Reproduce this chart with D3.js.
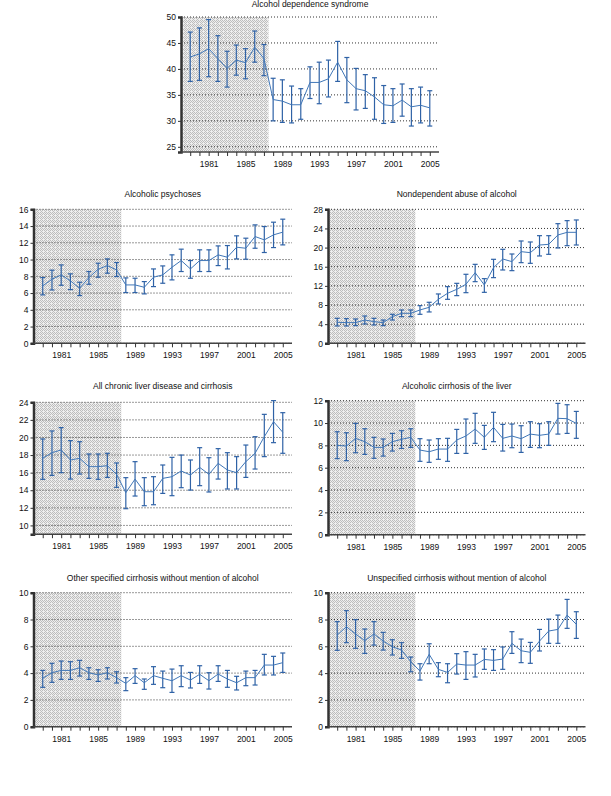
<!DOCTYPE html>
<html><head><meta charset="utf-8">
<script src="https://cdn.jsdelivr.net/npm/d3@7"></script>
<style>body{margin:0;background:#fff}svg{display:block}text{font-family:"Liberation Sans",Arial,sans-serif}</style>
</head><body>
<svg id="c" width="611" height="796"></svg>
<script>
const years = d3.range(1979, 2006);
const yearLabels = [1981, 1985, 1989, 1993, 1997, 2001, 2005];

const titles = ["Alcohol dependence syndrome","Alcoholic psychoses","Nondependent abuse of alcohol",
  "All chronic liver disease and cirrhosis","Alcoholic cirrhosis of the liver",
  "Other specified cirrhosis without mention of alcohol","Unspecified cirrhosis without mention of alcohol"];

const depMean = [42.3,42.9,43.9,42.0,40.1,41.7,41.2,44.2,42.0,34.1,33.8,33.1,33.1,37.4,37.4,38.1,41.3,37.9,36.2,35.8,34.6,33.1,32.9,34.0,32.7,33.0,32.5];
const depHi   = [47.1,47.9,49.5,46.4,43.4,44.6,43.9,47.3,44.7,38.2,37.9,36.7,36.2,40.4,41.3,41.7,45.3,42.2,40.1,38.9,38.3,36.8,36.2,37.1,36.2,36.5,35.8];
const depLo   = [37.6,37.8,38.5,37.6,36.5,38.8,38.1,41.3,38.7,30.0,29.7,29.6,30.3,34.3,33.3,34.6,37.6,33.5,32.1,32.4,30.3,29.5,29.7,30.9,29.0,29.6,29.0];

const psyMean = [6.85,7.65,8.17,7.45,6.57,7.85,8.84,9.28,8.76,6.97,6.97,6.69,7.89,8.17,9.08,9.88,8.88,9.88,9.88,10.56,10.28,11.47,11.35,12.75,12.35,12.95,13.27];
const psyHi   = [7.85,8.73,9.36,8.29,7.29,8.57,9.56,10.08,9.64,7.81,7.77,7.37,8.88,9.24,10.56,11.24,9.88,11.16,11.16,11.63,11.67,12.83,12.55,14.14,13.94,14.46,14.82];
const psyLo   = [5.78,6.37,6.93,6.41,5.70,7.05,7.89,8.37,7.97,6.06,6.06,5.90,6.77,7.17,7.57,8.57,7.77,8.57,8.57,9.28,8.88,10.08,10.04,11.35,10.84,11.43,11.75];

const abuMean = [4.39,4.32,4.32,4.87,4.53,4.32,5.57,6.27,6.27,6.96,7.52,9.19,10.45,11.28,12.33,14.76,12.19,15.81,17.62,17.06,19.15,18.94,20.54,20.68,22.63,23.19,23.19];
const abuHi   = [5.22,5.15,5.08,5.71,5.22,4.87,6.06,6.96,6.96,7.87,8.57,10.31,11.84,12.53,14.42,16.50,13.51,17.55,19.64,18.66,21.38,21.17,22.49,22.49,25.0,25.63,25.77];
const abuLo   = [3.62,3.62,3.69,4.04,3.83,3.69,4.87,5.57,5.57,6.06,6.55,8.22,9.19,9.96,10.58,12.88,10.65,13.72,15.32,15.18,16.85,16.71,18.25,18.59,19.92,20.40,20.54];

const cldMean = [17.63,18.27,18.58,17.44,17.63,16.68,16.68,16.79,15.81,13.72,15.27,13.83,13.83,15.35,15.54,16.19,15.73,16.60,15.81,17.06,16.30,16.0,17.25,18.20,20.09,21.80,20.59];
const cldHi   = [19.83,20.74,21.12,19.64,19.52,18.12,18.12,18.20,17.10,15.43,17.25,15.43,15.54,16.87,17.74,18.0,17.44,18.84,17.70,18.73,18.27,17.82,19.14,20.09,22.63,24.19,22.82];
const cldLo   = [15.24,15.69,16.0,15.27,15.84,15.35,15.24,15.46,14.33,11.90,13.34,12.24,12.35,13.64,13.38,14.29,14.02,14.52,13.80,15.27,14.14,14.14,15.46,16.41,17.82,19.41,18.20];

const acMean = [8.0,7.94,8.63,8.33,7.82,7.82,8.33,8.54,8.72,7.58,7.43,7.67,7.67,8.48,8.84,9.46,8.72,9.61,8.63,8.84,8.60,9.01,8.90,9.01,10.42,10.39,9.97];
const acHi   = [9.22,9.13,9.97,9.49,8.72,8.57,9.07,9.31,9.49,8.60,8.48,8.60,8.63,9.43,10.36,10.87,9.79,10.96,9.88,9.91,9.76,10.12,9.94,10.12,11.76,11.64,11.04];
const acLo   = [6.81,6.63,7.34,7.19,6.84,7.04,7.49,7.73,7.82,6.57,6.48,6.75,6.57,7.28,7.28,8.18,7.64,8.33,7.49,7.79,7.37,7.82,7.79,8.0,9.01,9.07,8.63];

const osMean = [3.61,4.03,4.20,4.20,4.40,4.03,3.86,4.03,3.66,3.23,3.81,3.28,3.81,3.61,3.43,3.81,3.48,3.91,3.43,3.93,3.56,3.28,3.66,3.66,4.60,4.60,4.78];
const osHi   = [4.20,4.73,4.90,4.85,4.95,4.40,4.25,4.40,4.10,3.66,4.33,3.56,4.48,4.15,4.30,4.55,4.05,4.55,4.03,4.55,4.20,3.76,4.15,4.20,5.40,5.25,5.50];
const osLo   = [2.94,3.31,3.53,3.53,3.78,3.53,3.38,3.56,3.26,2.69,3.23,2.79,3.16,2.91,2.56,2.99,2.89,3.23,2.81,3.38,2.94,2.74,3.06,3.11,3.86,3.86,4.05];

const unMean = [6.84,7.46,6.92,6.42,6.92,6.39,5.97,5.72,4.85,4.15,5.40,4.28,4.05,4.68,4.60,4.60,5.02,4.95,5.05,6.22,5.67,5.55,6.39,7.14,7.26,8.33,7.64];
const unHi   = [7.84,8.66,7.99,7.29,7.84,7.04,6.49,6.27,5.20,4.70,6.19,4.78,4.70,5.45,5.60,5.40,5.80,5.75,5.95,7.09,6.54,6.29,7.26,8.03,8.33,9.50,8.58];
const unLo   = [5.70,6.27,5.85,5.47,6.09,5.72,5.35,5.10,4.10,3.48,4.70,3.73,3.28,3.93,3.53,3.71,4.28,4.20,4.28,5.47,4.78,4.73,5.65,6.22,6.22,7.34,6.59];

const yDomains = [[24,50],[0,16],[0,28],[9,24],[0,12],[0,10],[0,10]];
const yTicks = [[25,30,35,40,45,50],[0,2,4,6,8,10,12,14,16],[0,4,8,12,16,20,24,28],
  [10,12,14,16,18,20,22,24],[0,2,4,6,8,10,12],[0,2,4,6,8,10],[0,2,4,6,8,10]];

const panels = [
  {mean:depMean,hi:depHi,lo:depLo, x:[181,439], y:[152,17], title:7},
  {mean:psyMean,hi:psyHi,lo:psyLo, x:[33.5,292], y:[343.3,209.3], title:197},
  {mean:abuMean,hi:abuHi,lo:abuLo, x:[328,585.5], y:[343.3,209.3], title:197},
  {mean:cldMean,hi:cldHi,lo:cldLo, x:[33.5,292], y:[534.2,402.3], title:389},
  {mean:acMean,hi:acHi,lo:acLo, x:[328,585.5], y:[534.7,400.7], title:389},
  {mean:osMean,hi:osHi,lo:osLo, x:[33.5,292], y:[726.7,592.7], title:581},
  {mean:unMean,hi:unHi,lo:unLo, x:[328,585.5], y:[726.7,592.7], title:581}
];

const svg = d3.select("#c");
const defs = svg.append("defs");
const pat = defs.append("pattern").attr("id","hatch").attr("patternUnits","userSpaceOnUse")
  .attr("width",4).attr("height",4);
pat.append("rect").attr("width",4).attr("height",4).attr("fill","#eeeeee");
[[0,0],[2,0],[1,1],[3,1],[0,2],[2,2],[1,3]].forEach(([a,b])=>
  pat.append("rect").attr("x",a).attr("y",b).attr("width",1).attr("height",1).attr("fill","#bdbdbd"));

const barColor = "#2f62a6", lineColor = "#4077b8";

panels.forEach((p,i)=>{
  const g = svg.append("g");
  const x = d3.scaleLinear().domain([1978,2006]).range(p.x);
  const y = d3.scaleLinear().domain(yDomains[i]).range(p.y);
  const top = y(yDomains[i][1]), bot = y(yDomains[i][0]);
  g.append("rect").attr("x",x(1978)).attr("y",top).attr("width",x(1987.5)-x(1978))
    .attr("height",bot-top).attr("fill","url(#hatch)");
  g.selectAll(".grid").data(yTicks[i]).join("line")
    .attr("x1",x(1978)).attr("x2",x(2006)).attr("y1",d=>y(d)).attr("y2",d=>y(d))
    .attr("stroke","#333").attr("stroke-width",1).attr("stroke-dasharray","1,2");
  const ya = g.append("g").attr("transform",`translate(${x(1978)},0)`)
    .call(d3.axisLeft(y).tickValues(yTicks[i]).tickSize(3).tickPadding(2));
  ya.select(".domain").attr("stroke","#333").attr("stroke-width",2.5);
  ya.selectAll("text").attr("font-size",8.5).attr("fill","#111");
  ya.selectAll(".tick line").attr("stroke","#333");
  const xa = g.append("g").attr("transform",`translate(0,${bot})`)
    .call(d3.axisBottom(x).tickValues(years).tickSize(4).tickPadding(5)
      .tickFormat(d=>yearLabels.includes(d)?String(d):""));
  xa.select(".domain").attr("stroke","#444").attr("stroke-width",1.5).attr("d",`M${x(1978)},0H${x(2006)}`);
  xa.selectAll(".tick line").attr("stroke","#333");
  xa.selectAll("text").attr("font-size",8.5).attr("fill","#111");
  const eb = g.selectAll(".eb").data(years).join("g").attr("stroke",barColor).attr("stroke-width",1.2);
  eb.append("line").attr("x1",d=>x(d)).attr("x2",d=>x(d))
    .attr("y1",(d,j)=>y(p.hi[j])).attr("y2",(d,j)=>y(p.lo[j]));
  eb.append("line").attr("x1",d=>x(d)-2.5).attr("x2",d=>x(d)+2.5)
    .attr("y1",(d,j)=>y(p.hi[j])).attr("y2",(d,j)=>y(p.hi[j]));
  eb.append("line").attr("x1",d=>x(d)-2.5).attr("x2",d=>x(d)+2.5)
    .attr("y1",(d,j)=>y(p.lo[j])).attr("y2",(d,j)=>y(p.lo[j]));
  g.append("path").datum(years).attr("fill","none").attr("stroke",lineColor).attr("stroke-width",1)
    .attr("d",d3.line().x(d=>x(d)).y((d,j)=>y(p.mean[j])));
  g.append("text").attr("x",(p.x[0]+p.x[1])/2).attr("y",p.title).attr("text-anchor","middle")
    .attr("font-size",8.5).attr("fill","#111").text(titles[i]);
});
</script>
</body></html>
